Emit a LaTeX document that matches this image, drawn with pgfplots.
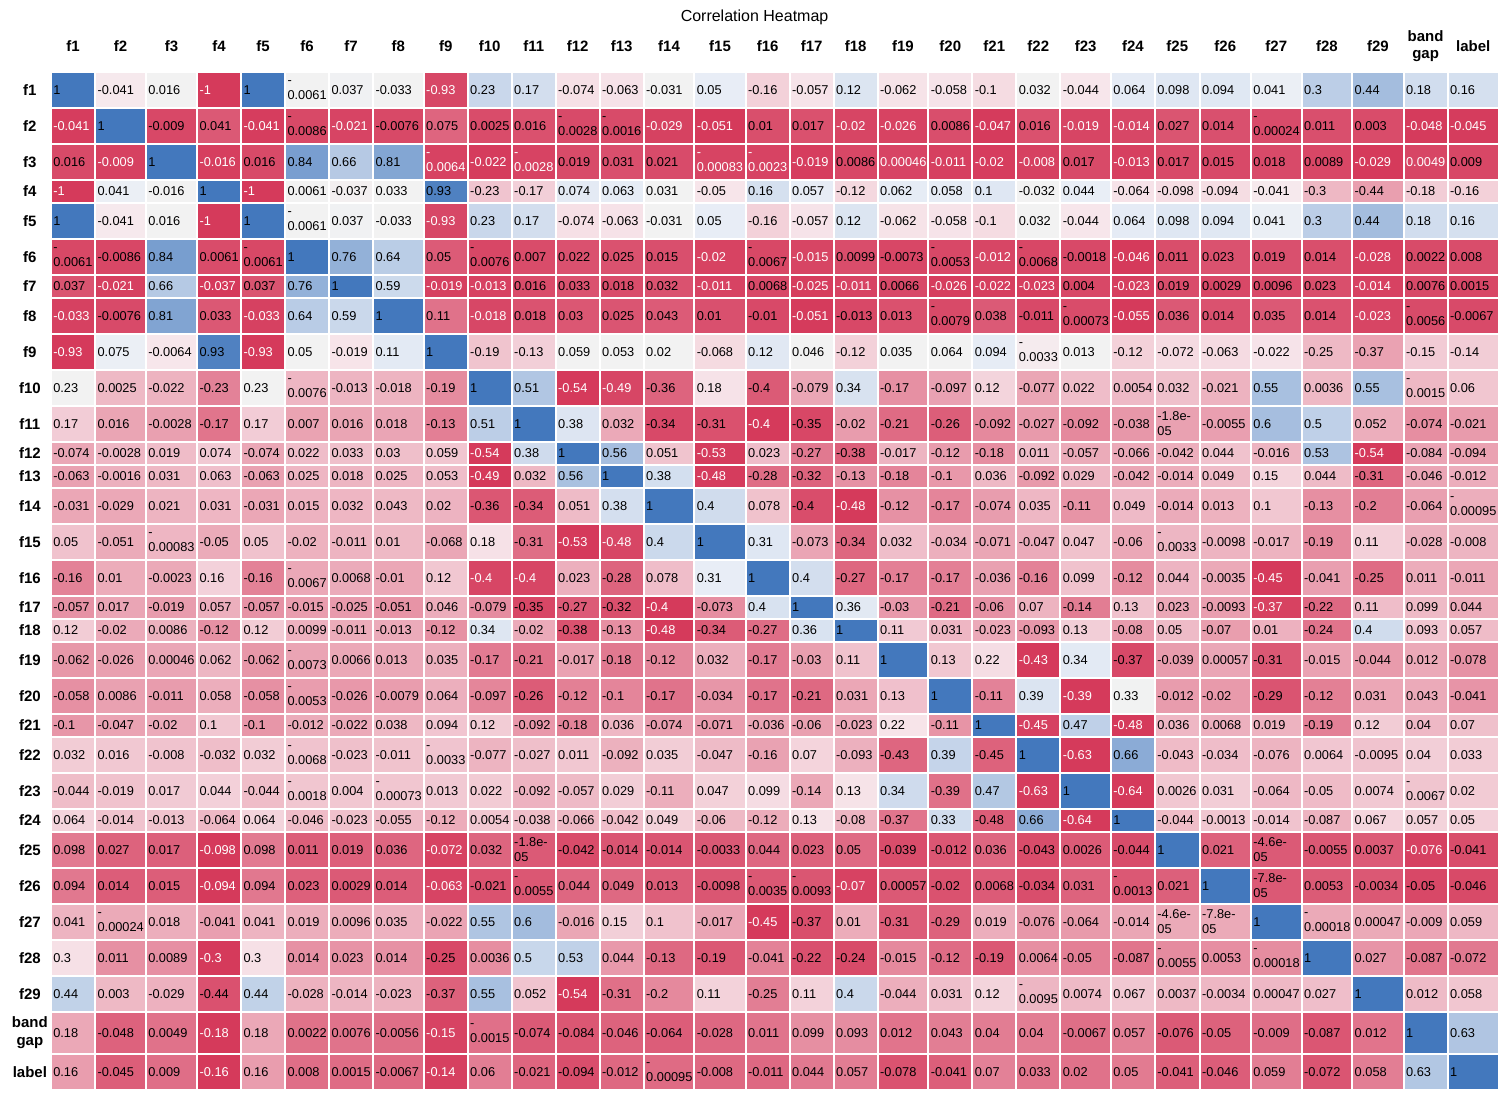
\documentclass[border=0pt]{standalone}
\usepackage{pgfplots}
\usepackage{pgfplotstable}
\pgfplotsset{compat=1.18}
\usepackage{fontspec}
\setmainfont{Liberation Sans}

\newcommand\cellfont{\fontsize{12.8}{15}\selectfont}
\newcommand\headfont{\bfseries\fontsize{15}{17.5}\selectfont}

% one line per feature: cell centre, text width, then its correlations
\pgfplotstableread{
xc tw f1 f2 f3 f4 f5 f6 f7 f8 f9 f10 f11 f12 f13 f14 f15 f16 f17 f18 f19 f20 f21 f22 f23 f24 f25 f26 f27 f28 f29 gap lab
72.85 39.3 1 -0.041 0.016 -1 1 -0.0061 0.037 -0.033 -0.93 0.23 0.17 -0.074 -0.063 -0.031 0.05 -0.16 -0.057 0.12 -0.062 -0.058 -0.1 0.032 -0.044 0.064 0.098 0.094 0.041 0.3 0.44 0.18 0.16
120.35 45.7 -0.041 1 -0.009 0.041 -0.041 -0.0086 -0.021 -0.0076 0.075 0.0025 0.016 -0.0028 -0.0016 -0.029 -0.051 0.01 0.017 -0.02 -0.026 0.0086 -0.047 0.016 -0.019 -0.014 0.027 0.014 -0.00024 0.011 0.003 -0.048 -0.045
171.35 46.3 0.016 -0.009 1 -0.016 0.016 0.84 0.66 0.81 -0.0064 -0.022 -0.0028 0.019 0.031 0.021 -0.00083 -0.0023 -0.019 0.0086 0.00046 -0.011 -0.02 -0.008 0.017 -0.013 0.017 0.015 0.018 0.0089 -0.029 0.0049 0.009
219 39 -1 0.041 -0.016 1 -1 0.0061 -0.037 0.033 0.93 -0.23 -0.17 0.074 0.063 0.031 -0.05 0.16 0.057 -0.12 0.062 0.058 0.1 -0.032 0.044 -0.064 -0.098 -0.094 -0.041 -0.3 -0.44 -0.18 -0.16
263 39 1 -0.041 0.016 -1 1 -0.0061 0.037 -0.033 -0.93 0.23 0.17 -0.074 -0.063 -0.031 0.05 -0.16 -0.057 0.12 -0.062 -0.058 -0.1 0.032 -0.044 0.064 0.098 0.094 0.041 0.3 0.44 0.18 0.16
307 39 -0.0061 -0.0086 0.84 0.0061 -0.0061 1 0.76 0.64 0.05 -0.0076 0.007 0.022 0.025 0.015 -0.02 -0.0067 -0.015 0.0099 -0.0073 -0.0053 -0.012 -0.0068 -0.0018 -0.046 0.011 0.023 0.019 0.014 -0.028 0.0022 0.008
351 39 0.037 -0.021 0.66 -0.037 0.037 0.76 1 0.59 -0.019 -0.013 0.016 0.033 0.018 0.032 -0.011 0.0068 -0.025 -0.011 0.0066 -0.026 -0.022 -0.023 0.004 -0.023 0.019 0.0029 0.0096 0.023 -0.014 0.0076 0.0015
398.35 45.7 -0.033 -0.0076 0.81 0.033 -0.033 0.64 0.59 1 0.11 -0.018 0.018 0.03 0.025 0.043 0.01 -0.01 -0.051 -0.013 0.013 -0.0079 0.038 -0.011 -0.00073 -0.055 0.036 0.014 0.035 0.014 -0.023 -0.0056 -0.0067
445.7 39 -0.93 0.075 -0.0064 0.93 -0.93 0.05 -0.019 0.11 1 -0.19 -0.13 0.059 0.053 0.02 -0.068 0.12 0.046 -0.12 0.035 0.064 0.094 -0.0033 0.013 -0.12 -0.072 -0.063 -0.022 -0.25 -0.37 -0.15 -0.14
489.7 39 0.23 0.0025 -0.022 -0.23 0.23 -0.0076 -0.013 -0.018 -0.19 1 0.51 -0.54 -0.49 -0.36 0.18 -0.4 -0.079 0.34 -0.17 -0.097 0.12 -0.077 0.022 0.0054 0.032 -0.021 0.55 0.0036 0.55 -0.0015 0.06
533.7 39 0.17 0.016 -0.0028 -0.17 0.17 0.007 0.016 0.018 -0.13 0.51 1 0.38 0.032 -0.34 -0.31 -0.4 -0.35 -0.02 -0.21 -0.26 -0.092 -0.027 -0.092 -0.038 -1.8e-05 -0.0055 0.6 0.5 0.052 -0.074 -0.021
577.7 39 -0.074 -0.0028 0.019 0.074 -0.074 0.022 0.033 0.03 0.059 -0.54 0.38 1 0.56 0.051 -0.53 0.023 -0.27 -0.38 -0.017 -0.12 -0.18 0.011 -0.057 -0.066 -0.042 0.044 -0.016 0.53 -0.54 -0.084 -0.094
621.7 39 -0.063 -0.0016 0.031 0.063 -0.063 0.025 0.018 0.025 0.053 -0.49 0.032 0.56 1 0.38 -0.48 -0.28 -0.32 -0.13 -0.18 -0.1 0.036 -0.092 0.029 -0.042 -0.014 0.049 0.15 0.044 -0.31 -0.046 -0.012
669 45.6 -0.031 -0.029 0.021 0.031 -0.031 0.015 0.032 0.043 0.02 -0.36 -0.34 0.051 0.38 1 0.4 0.078 -0.4 -0.48 -0.12 -0.17 -0.074 0.035 -0.11 0.049 -0.014 0.013 0.1 -0.13 -0.2 -0.064 -0.00095
720 46.4 0.05 -0.051 -0.00083 -0.05 0.05 -0.02 -0.011 0.01 -0.068 0.18 -0.31 -0.53 -0.48 0.4 1 0.31 -0.073 -0.34 0.032 -0.034 -0.071 -0.047 0.047 -0.06 -0.0033 -0.0098 -0.017 -0.19 0.11 -0.028 -0.008
767.7 39 -0.16 0.01 -0.0023 0.16 -0.16 -0.0067 0.0068 -0.01 0.12 -0.4 -0.4 0.023 -0.28 0.078 0.31 1 0.4 -0.27 -0.17 -0.17 -0.036 -0.16 0.099 -0.12 0.044 -0.0035 -0.45 -0.041 -0.25 0.011 -0.011
811.7 39 -0.057 0.017 -0.019 0.057 -0.057 -0.015 -0.025 -0.051 0.046 -0.079 -0.35 -0.27 -0.32 -0.4 -0.073 0.4 1 0.36 -0.03 -0.21 -0.06 0.07 -0.14 0.13 0.023 -0.0093 -0.37 -0.22 0.11 0.099 0.044
855.7 39 0.12 -0.02 0.0086 -0.12 0.12 0.0099 -0.011 -0.013 -0.12 0.34 -0.02 -0.38 -0.13 -0.48 -0.34 -0.27 0.36 1 0.11 0.031 -0.023 -0.093 0.13 -0.08 0.05 -0.07 0.01 -0.24 0.4 0.093 0.057
903 45.6 -0.062 -0.026 0.00046 0.062 -0.062 -0.0073 0.0066 0.013 0.035 -0.17 -0.21 -0.017 -0.18 -0.12 0.032 -0.17 -0.03 0.11 1 0.13 0.22 -0.43 0.34 -0.37 -0.039 0.00057 -0.31 -0.015 -0.044 0.012 -0.078
950.3 39 -0.058 0.0086 -0.011 0.058 -0.058 -0.0053 -0.026 -0.0079 0.064 -0.097 -0.26 -0.12 -0.1 -0.17 -0.034 -0.17 -0.21 0.031 0.13 1 -0.11 0.39 -0.39 0.33 -0.012 -0.02 -0.29 -0.12 0.031 0.043 -0.041
994.3 39 -0.1 -0.047 -0.02 0.1 -0.1 -0.012 -0.022 0.038 0.094 0.12 -0.092 -0.18 0.036 -0.074 -0.071 -0.036 -0.06 -0.023 0.22 -0.11 1 -0.45 0.47 -0.48 0.036 0.0068 0.019 -0.19 0.12 0.04 0.07
1038.3 39 0.032 0.016 -0.008 -0.032 0.032 -0.0068 -0.023 -0.011 -0.0033 -0.077 -0.027 0.011 -0.092 0.035 -0.047 -0.16 0.07 -0.093 -0.43 0.39 -0.45 1 -0.63 0.66 -0.043 -0.034 -0.076 0.0064 -0.0095 0.04 0.033
1085.65 45.7 -0.044 -0.019 0.017 0.044 -0.044 -0.0018 0.004 -0.00073 0.013 0.022 -0.092 -0.057 0.029 -0.11 0.047 0.099 -0.14 0.13 0.34 -0.39 0.47 -0.63 1 -0.64 0.0026 0.031 -0.064 -0.05 0.0074 -0.0067 0.02
1133 39 0.064 -0.014 -0.013 -0.064 0.064 -0.046 -0.023 -0.055 -0.12 0.0054 -0.038 -0.066 -0.042 0.049 -0.06 -0.12 0.13 -0.08 -0.37 0.33 -0.48 0.66 -0.64 1 -0.044 -0.0013 -0.014 -0.087 0.067 0.057 0.05
1177.35 39.7 0.098 0.027 0.017 -0.098 0.098 0.011 0.019 0.036 -0.072 0.032 -1.8e-05 -0.042 -0.014 -0.014 -0.0033 0.044 0.023 0.05 -0.039 -0.012 0.036 -0.043 0.0026 -0.044 1 0.021 -4.6e-05 -0.0055 0.0037 -0.076 -0.041
1225.35 46.3 0.094 0.014 0.015 -0.094 0.094 0.023 0.0029 0.014 -0.063 -0.021 -0.0055 0.044 0.049 0.013 -0.0098 -0.0035 -0.0093 -0.07 0.00057 -0.02 0.0068 -0.034 0.031 -0.0013 0.021 1 -7.8e-05 0.0053 -0.0034 -0.05 -0.046
1276.35 45.7 0.041 -0.00024 0.018 -0.041 0.041 0.019 0.0096 0.035 -0.022 0.55 0.6 -0.016 0.15 0.1 -0.017 -0.45 -0.37 0.01 -0.31 -0.29 0.019 -0.076 -0.064 -0.014 -4.6e-05 -7.8e-05 1 -0.00018 0.00047 -0.009 0.059
1327 45.6 0.3 0.011 0.0089 -0.3 0.3 0.014 0.023 0.014 -0.25 0.0036 0.5 0.53 0.044 -0.13 -0.19 -0.041 -0.22 -0.24 -0.015 -0.12 -0.19 0.0064 -0.05 -0.087 -0.0055 0.0053 -0.00018 1 0.027 -0.087 -0.072
1378 46.4 0.44 0.003 -0.029 -0.44 0.44 -0.028 -0.014 -0.023 -0.37 0.55 0.052 -0.54 -0.31 -0.2 0.11 -0.25 0.11 0.4 -0.044 0.031 0.12 -0.0095 0.0074 0.067 0.0037 -0.0034 0.00047 0.027 1 0.012 0.058
1425.7 39 0.18 -0.048 0.0049 -0.18 0.18 0.0022 0.0076 -0.0056 -0.15 -0.0015 -0.074 -0.084 -0.046 -0.064 -0.028 0.011 0.099 0.093 0.012 0.043 0.04 0.04 -0.0067 0.057 -0.076 -0.05 -0.009 -0.087 0.012 1 0.63
1473.35 46.3 0.16 -0.045 0.009 -0.16 0.16 0.008 0.0015 -0.0067 -0.14 0.06 -0.021 -0.094 -0.012 -0.00095 -0.008 -0.011 0.044 0.057 -0.078 -0.041 0.07 0.033 0.02 0.05 -0.041 -0.046 0.059 -0.072 0.058 0.63 1
}\corr

\pgfplotsset{
  colormap={corrmap}{
    rgb255(0cm)=(213,58,91) rgb255(12.2cm)=(247,230,235)
    rgb255(12.3cm)=(242,242,242) rgb255(13.2cm)=(242,242,242)
    rgb255(13.3cm)=(233,238,246) rgb255(25.5cm)=(67,120,189)},
  heat/.style={
    scatter, only marks, mark=none,
    point meta=explicit, point meta rel=per plot,
    colormap name=corrmap,
    visualization depends on={\thisrow{tw}\as\tw},
    nodes near coords align=center,
    every node near coord/.append style={anchor=center,
      /utils/exec={\pgfplotscolormapdefinemappedcolor{\pgfplotspointmetatransformed}},
      fill=mapped color,
      draw=white, line width=2pt, text width=\tw pt, align=left,
      inner xsep=2.5pt, inner ysep=0pt, font=\cellfont, text=black},
  },
}
% one heatmap row: column of \corr, row centre (px from top), row height
\newcommand\heatrow[3]{\addplot[heat,
    nodes near coords={\pgfmathtruncatemacro\dk{\pgfplotspointmetatransformed<35.5}%
      \pgfplotstablegetelem{\coordindex}{#1}\of\corr
      \ifnum\dk=1 \color{white}\fi\pgfplotsretval},
    every node near coord/.append style={minimum height=#3pt}]
  table[x=xc, y expr=-#2, meta=#1]{\corr};}

\begin{document}
\begin{tikzpicture}
\begin{axis}[
    scale only axis, width=1504pt, height=1099pt,
    xmin=0, xmax=1504, ymin=-1099, ymax=0,
    axis line style={draw=none}, major tick length=0pt,
    xtick={72.85,120.35,171.35,219,263,307,351,398.35,445.7,489.7,533.7,577.7,621.7,669,720,767.7,811.7,855.7,903,950.3,994.3,1038.3,1085.65,1133,1177.35,1225.35,1276.35,1327,1378,1425.7,1473.35},
    xticklabels={f1,f2,f3,f4,f5,f6,f7,f8,f9,f10,f11,f12,f13,f14,f15,f16,f17,f18,f19,f20,f21,f22,f23,f24,f25,f26,f27,f28,f29,{band\\gap},label},
    xticklabel pos=upper,
    xticklabel style={font=\headfont, align=center, anchor=center, yshift=-46pt},
    ytick={-89.7,-125.7,-161.7,-191.2,-220.7,-256.7,-286.2,-315.7,-351.7,-387.7,-423.7,-453.2,-476.2,-505.7,-541.7,-577.7,-607.2,-630.2,-659.7,-695.7,-725.2,-754.7,-790.7,-820.2,-849.7,-885.7,-921.7,-957.7,-993.7,-1032.7,-1071.7},
    yticklabels={f1,f2,f3,f4,f5,f6,f7,f8,f9,f10,f11,f12,f13,f14,f15,f16,f17,f18,f19,f20,f21,f22,f23,f24,f25,f26,f27,f28,f29,{band\\gap},label},
    yticklabel style={font=\headfont, align=center, anchor=center, xshift=29.8pt},
    title={Correlation Heatmap},
    title style={at={(axis description cs:0.5017,1)}, anchor=center, yshift=-23pt, font=\fontsize{16}{19}\selectfont},
]
\heatrow{f1}{89.7}{36}
\heatrow{f2}{125.7}{36}
\heatrow{f3}{161.7}{36}
\heatrow{f4}{191.2}{23}
\heatrow{f5}{220.7}{36}
\heatrow{f6}{256.7}{36}
\heatrow{f7}{286.2}{23}
\heatrow{f8}{315.7}{36}
\heatrow{f9}{351.7}{36}
\heatrow{f10}{387.7}{36}
\heatrow{f11}{423.7}{36}
\heatrow{f12}{453.2}{23}
\heatrow{f13}{476.2}{23}
\heatrow{f14}{505.7}{36}
\heatrow{f15}{541.7}{36}
\heatrow{f16}{577.7}{36}
\heatrow{f17}{607.2}{23}
\heatrow{f18}{630.2}{23}
\heatrow{f19}{659.7}{36}
\heatrow{f20}{695.7}{36}
\heatrow{f21}{725.2}{23}
\heatrow{f22}{754.7}{36}
\heatrow{f23}{790.7}{36}
\heatrow{f24}{820.2}{23}
\heatrow{f25}{849.7}{36}
\heatrow{f26}{885.7}{36}
\heatrow{f27}{921.7}{36}
\heatrow{f28}{957.7}{36}
\heatrow{f29}{993.7}{36}
\heatrow{gap}{1032.7}{42}
\heatrow{lab}{1071.7}{36}
\end{axis}
\end{tikzpicture}
\end{document}
